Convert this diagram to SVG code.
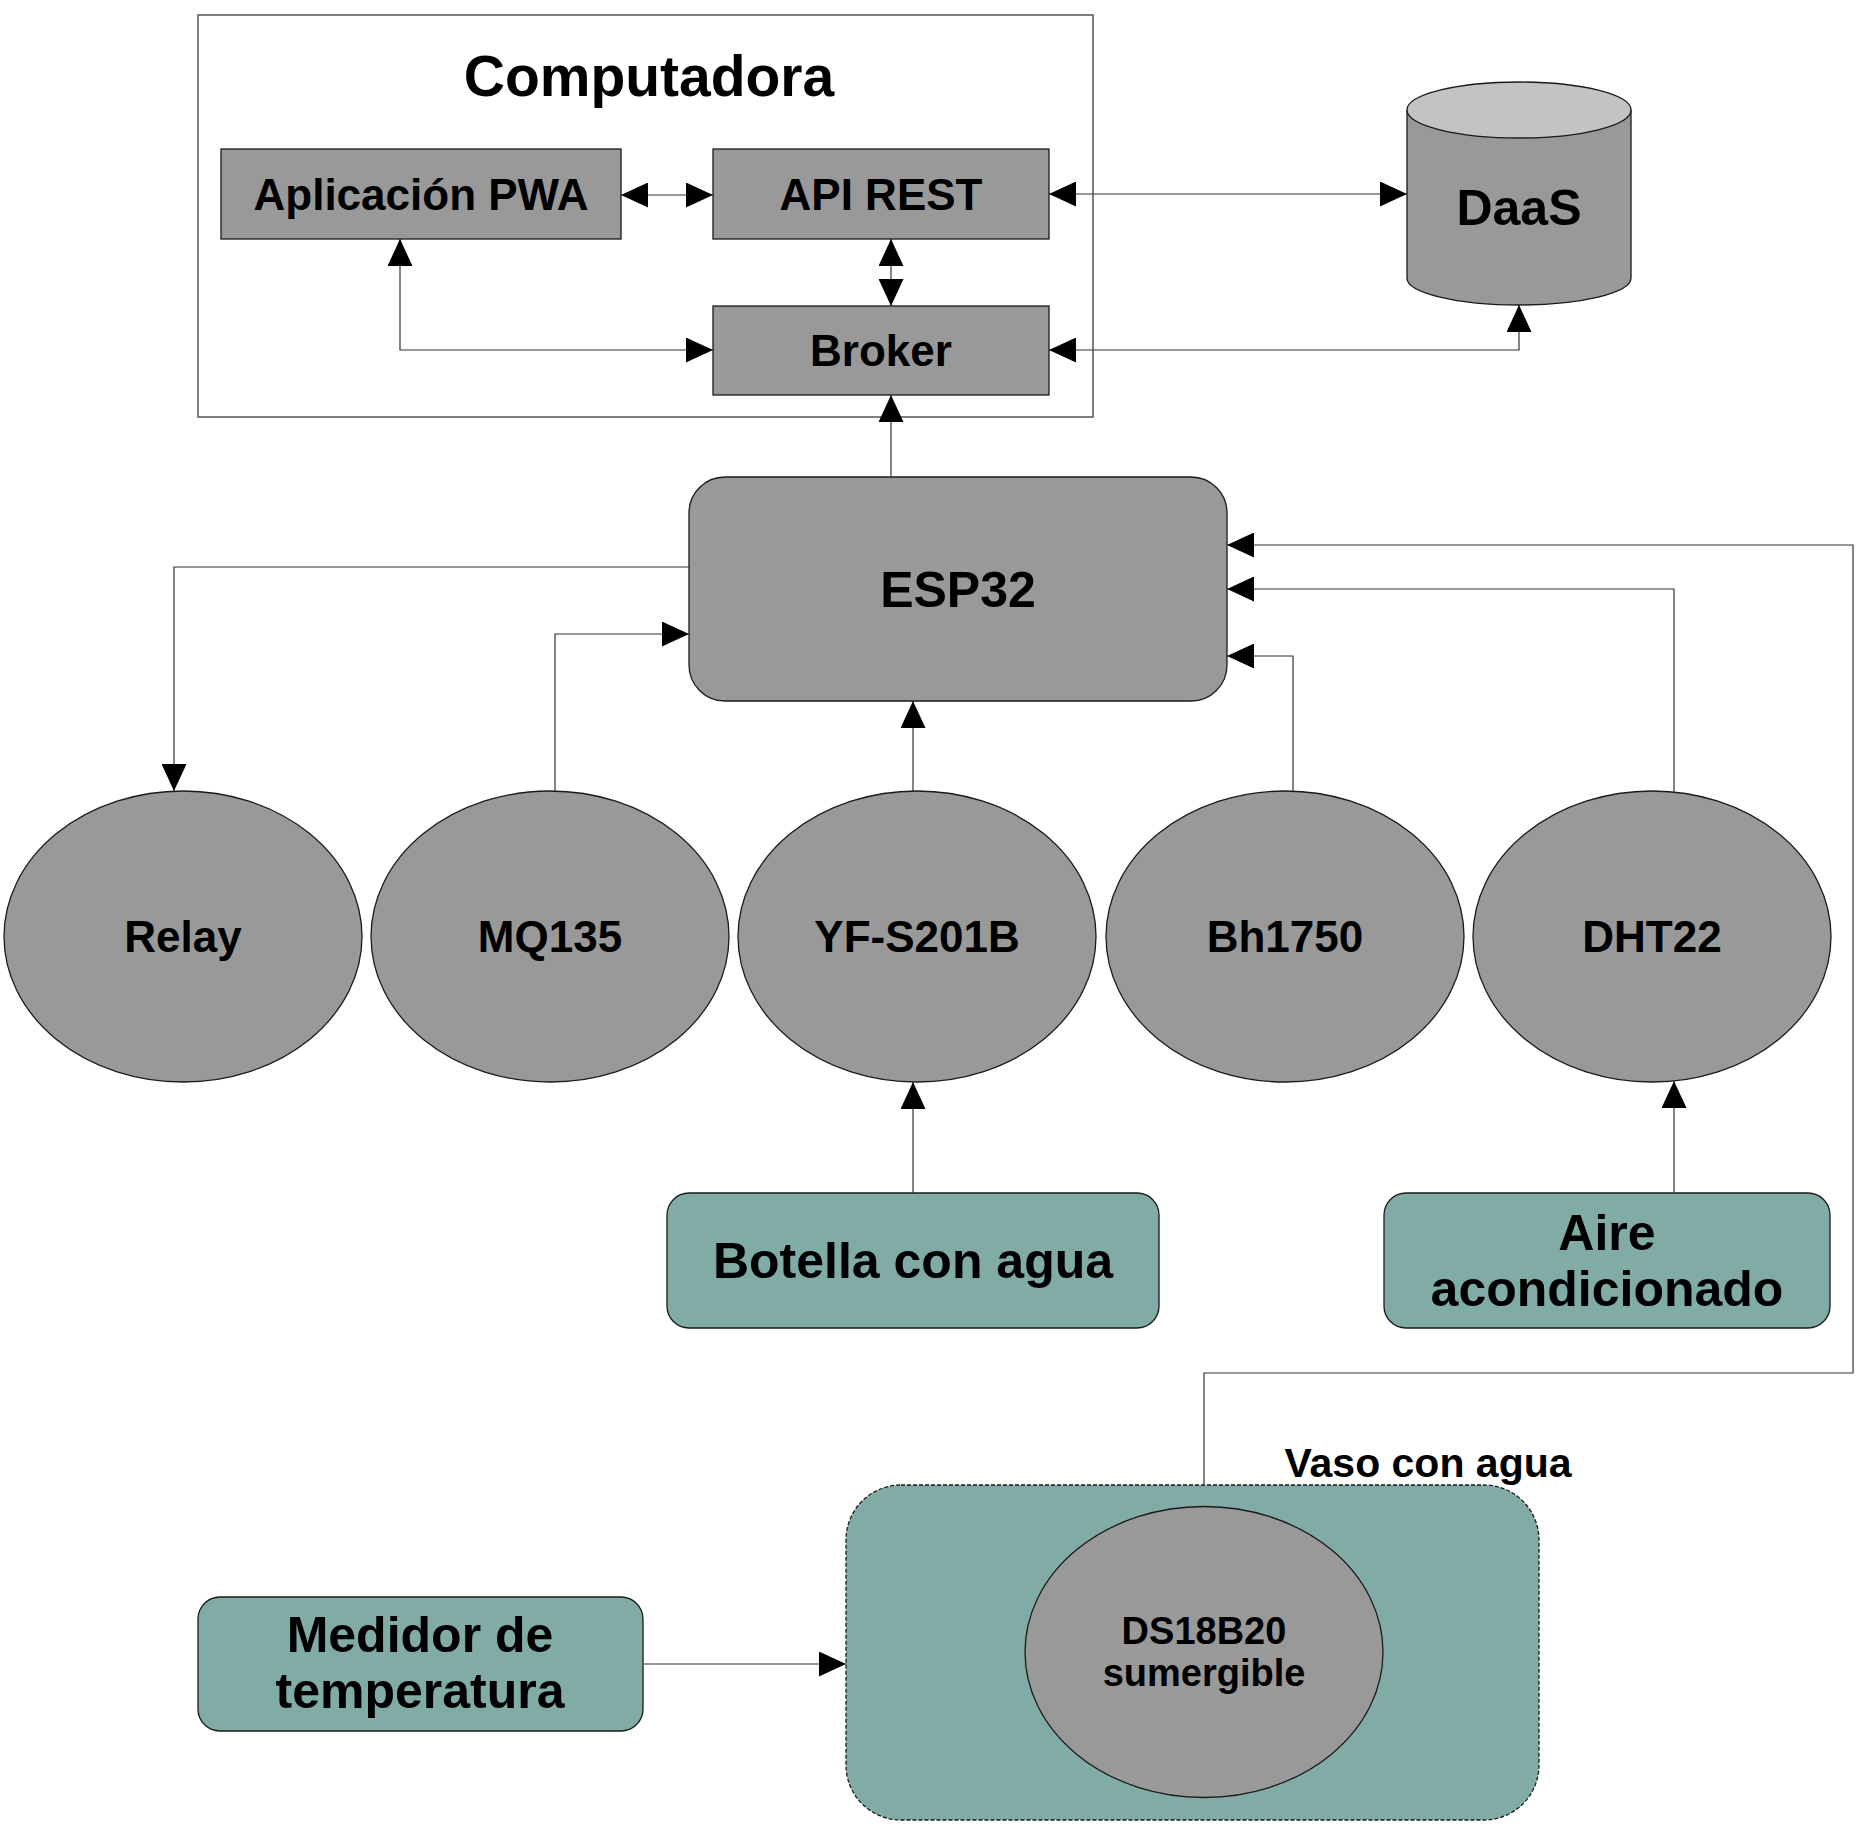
<svg xmlns="http://www.w3.org/2000/svg" width="1861" height="1828" viewBox="0 0 1861 1828">
<style>
.bg{fill:#ffffff}
.box{fill:#999999;stroke:#1a1a1a;stroke-width:1.3}
.teal{fill:#81aca6;stroke:#1a1a1a;stroke-width:1.3}
.frame{fill:none;stroke:#555555;stroke-width:1.5}
.conn{fill:none;stroke:#333333;stroke-width:1.2}
text{font-family:"Liberation Sans",Arial,sans-serif;font-weight:bold;fill:#000000;text-anchor:middle}
</style>
<defs>
<marker id="ah" markerUnits="userSpaceOnUse" markerWidth="27" markerHeight="25" refX="27" refY="12.5" orient="auto-start-reverse">
<path d="M0,0 L27,12.5 L0,25 z" fill="#000000"/>
</marker>
</defs>
<rect class="bg" x="0" y="0" width="1861" height="1828"/>

<g id="computadora">
<rect class="frame" x="198" y="15" width="895" height="402"/>
<text x="649" y="96" font-size="57">Computadora</text>
</g>

<g id="pwa">
<rect class="box" x="221" y="149" width="400" height="90"/>
<text x="421" y="210" font-size="44">Aplicación PWA</text>
</g>

<g id="api">
<rect class="box" x="713" y="149" width="336" height="90"/>
<text x="881" y="210" font-size="44">API REST</text>
</g>

<g id="broker">
<rect class="box" x="713" y="306" width="336" height="89"/>
<text x="881" y="366" font-size="44">Broker</text>
</g>

<g id="daas">
<path class="box" d="M1407,110 V278 A112,27 0 0 0 1631,278 V110"/>
<ellipse cx="1519" cy="110" rx="112" ry="28" fill="#c3c3c3" stroke="#1a1a1a" stroke-width="1.3"/>
<text x="1519" y="225" font-size="50">DaaS</text>
</g>

<g id="esp32">
<rect class="box" x="689" y="477" width="538" height="224" rx="36" ry="36"/>
<text x="958" y="607" font-size="50">ESP32</text>
</g>

<g id="relay">
<ellipse class="box" cx="183" cy="936.5" rx="179" ry="145.5"/>
<text x="183" y="952" font-size="44">Relay</text>
</g>

<g id="mq135">
<ellipse class="box" cx="550" cy="936.5" rx="179" ry="145.5"/>
<text x="550" y="952" font-size="44">MQ135</text>
</g>

<g id="yf">
<ellipse class="box" cx="917" cy="936.5" rx="179" ry="145.5"/>
<text x="917" y="952" font-size="44">YF-S201B</text>
</g>

<g id="bh1750">
<ellipse class="box" cx="1285" cy="936.5" rx="179" ry="145.5"/>
<text x="1285" y="952" font-size="44">Bh1750</text>
</g>

<g id="dht22">
<ellipse class="box" cx="1652" cy="936.5" rx="179" ry="145.5"/>
<text x="1652" y="952" font-size="44">DHT22</text>
</g>

<g id="botella">
<rect class="teal" x="667" y="1193" width="492" height="135" rx="22" ry="22"/>
<text x="913" y="1278" font-size="50">Botella con agua</text>
</g>

<g id="aire">
<rect class="teal" x="1384" y="1193" width="446" height="135" rx="22" ry="22"/>
<text x="1607" y="1250" font-size="50">Aire</text>
<text x="1607" y="1306" font-size="50">acondicionado</text>
</g>

<g id="vaso">
<rect x="846" y="1485" width="693" height="335" rx="55" ry="55" fill="#81aca6" stroke="#1a1a1a" stroke-width="1.3" stroke-dasharray="4,2"/>
<text x="1428" y="1477" font-size="41">Vaso con agua</text>
</g>

<g id="ds18b20">
<ellipse class="box" cx="1204" cy="1652" rx="179" ry="145.5"/>
<text x="1204" y="1644" font-size="38">DS18B20</text>
<text x="1204" y="1686" font-size="38">sumergible</text>
</g>

<g id="medidor">
<rect class="teal" x="198" y="1597" width="445" height="134" rx="22" ry="22"/>
<text x="420" y="1652" font-size="50">Medidor de</text>
<text x="420" y="1708" font-size="50">temperatura</text>
</g>

<g id="connectors">
<path class="conn" d="M621,195 H713" marker-start="url(#ah)" marker-end="url(#ah)"/>
<path class="conn" d="M891,239 V306" marker-start="url(#ah)" marker-end="url(#ah)"/>
<path class="conn" d="M400,239 V350 H713" marker-start="url(#ah)" marker-end="url(#ah)"/>
<path class="conn" d="M1049,194 H1407" marker-start="url(#ah)" marker-end="url(#ah)"/>
<path class="conn" d="M1049,350 H1519 V305" marker-start="url(#ah)" marker-end="url(#ah)"/>
<path class="conn" d="M891,477 V395" marker-end="url(#ah)"/>
<path class="conn" d="M689,567 H174 V791" marker-end="url(#ah)"/>
<path class="conn" d="M555,791 V634 H689" marker-end="url(#ah)"/>
<path class="conn" d="M913,791 V701" marker-end="url(#ah)"/>
<path class="conn" d="M1293,791 V656 H1227" marker-end="url(#ah)"/>
<path class="conn" d="M1674,792 V589 H1227" marker-end="url(#ah)"/>
<path class="conn" d="M1204,1485 V1373 H1853 V545 H1227" marker-end="url(#ah)"/>
<path class="conn" d="M913,1193 V1082" marker-end="url(#ah)"/>
<path class="conn" d="M1674,1193 V1081" marker-end="url(#ah)"/>
<path class="conn" d="M643,1664 H846" marker-end="url(#ah)"/>
</g>
</svg>
